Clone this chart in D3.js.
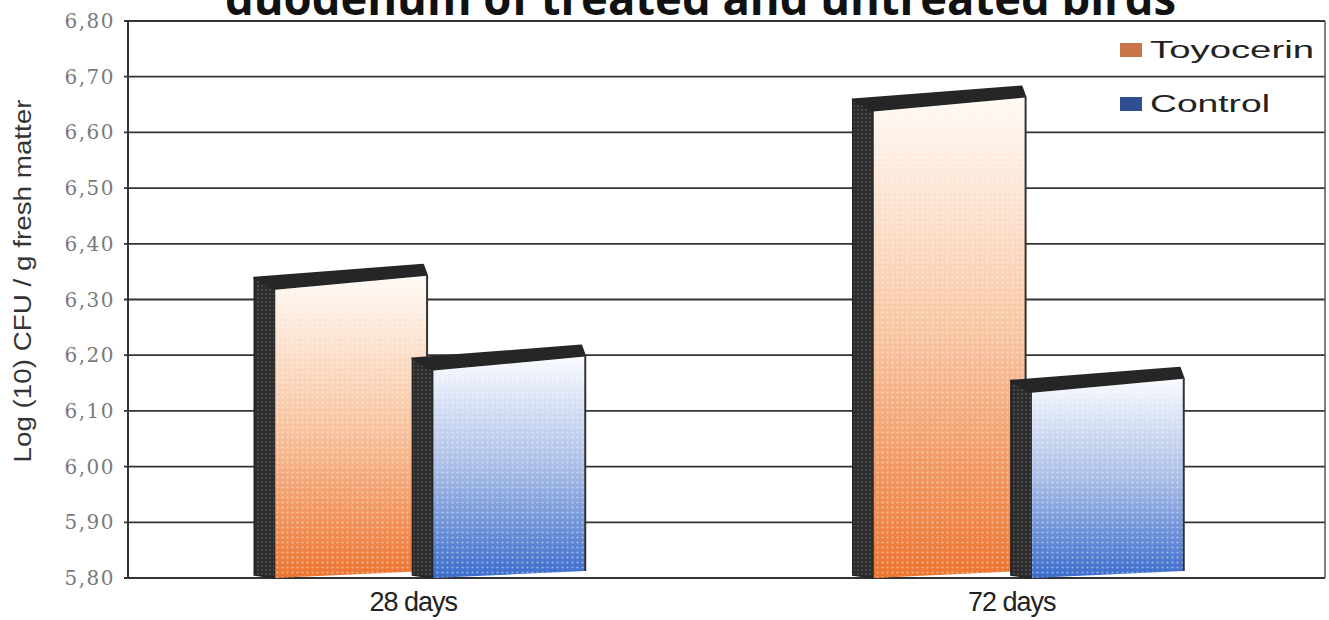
<!DOCTYPE html>
<html>
<head>
<meta charset="utf-8">
<script src="https://cdn.jsdelivr.net/npm/d3@7"></script>
<style>
  html, body { margin: 0; padding: 0; background: #fff; }
  svg { display: block; }
</style>
</head>
<body>
<div id="chart"></div>
<script>
// chart values
const categories = ["28 days", "72 days"];
const series = ["Toyocerin", "Control"];
const toyocerin = [6.33, 6.65];
const control = [6.185, 6.145];
const yTicks = [5.8, 5.9, 6.0, 6.1, 6.2, 6.3, 6.4, 6.5, 6.6, 6.7, 6.8];

const width = 1329,
  height = 620,
  margin = { top: 21, right: 4, bottom: 42, left: 128 };

const svg = d3
  .select("#chart")
  .append("svg")
  .attr("width", width)
  .attr("height", height)
  .attr("viewBox", [0, 0, width, height]);

const x0 = d3
  .scaleBand()
  .domain(categories)
  .range([margin.left, width - margin.right]);

const x1 = d3
  .scaleBand()
  .domain(series)
  .range([-152, 158])
  .paddingInner(0.04);

const y = d3
  .scaleLinear()
  .domain([5.8, 6.8])
  .range([height - margin.bottom, margin.top]);

const fmt = (d) => d3.format(".2f")(d).replace(".", ",");

// gradients and halftone pattern
const defs = svg.append("defs");
const grad = [
  { id: "g-Toyocerin", top: "#fffaf5", mid: "#f8c4a0", bot: "#ec7430" },
  { id: "g-Control", top: "#f9fbff", mid: "#a9bde6", bot: "#3a6ccc" },
];
for (let g of grad) {
  const lg = defs
    .append("linearGradient")
    .attr("id", g.id)
    .attr("x1", 0)
    .attr("y1", 0)
    .attr("x2", 0)
    .attr("y2", 1);
  lg.append("stop").attr("offset", "0%").attr("stop-color", g.top);
  lg.append("stop").attr("offset", "50%").attr("stop-color", g.mid);
  lg.append("stop").attr("offset", "100%").attr("stop-color", g.bot);
}
const dots = defs
  .append("pattern")
  .attr("id", "dots")
  .attr("width", 5)
  .attr("height", 5)
  .attr("patternUnits", "userSpaceOnUse");
dots
  .append("circle")
  .attr("cx", 2.5)
  .attr("cy", 2.5)
  .attr("r", 1.1)
  .attr("fill", "#fff")
  .attr("opacity", 0.45);
const darkDots = defs
  .append("pattern")
  .attr("id", "darkdots")
  .attr("width", 4)
  .attr("height", 4)
  .attr("patternUnits", "userSpaceOnUse");
darkDots.append("rect").attr("width", 4).attr("height", 4).attr("fill", "#2b2b2b");
darkDots
  .append("circle")
  .attr("cx", 2)
  .attr("cy", 2)
  .attr("r", 0.9)
  .attr("fill", "#595959");

// title, cut at the top of the picture as in the source
svg
  .append("text")
  .attr("x", 225)
  .attr("y", 15)
  .attr("textLength", 951)
  .attr("lengthAdjust", "spacingAndGlyphs")
  .style("font-family", "'Open Sans', 'DejaVu Sans', sans-serif")
  .style("font-weight", "bold")
  .style("font-size", "46px")
  .attr("fill", "#111")
  .text("duodenum of treated and untreated birds");

// grid
svg
  .append("g")
  .selectAll("line")
  .data(yTicks)
  .join("line")
  .attr("x1", margin.left - 4)
  .attr("x2", width - margin.right)
  .attr("y1", (d) => y(d))
  .attr("y2", (d) => y(d))
  .attr("stroke", "#333")
  .attr("stroke-width", 1.8);

// frame
svg
  .append("line")
  .attr("x1", margin.left)
  .attr("x2", margin.left)
  .attr("y1", y(6.8))
  .attr("y2", y(5.8))
  .attr("stroke", "#333")
  .attr("stroke-width", 2);
svg
  .append("line")
  .attr("x1", width - margin.right)
  .attr("x2", width - margin.right)
  .attr("y1", y(6.8))
  .attr("y2", y(5.8))
  .attr("stroke", "#555")
  .attr("stroke-width", 1.5);

// y tick labels
svg
  .append("g")
  .selectAll("text")
  .data(yTicks)
  .join("text")
  .attr("x", 115)
  .attr("y", (d) => y(d) + 7)
  .attr("text-anchor", "end")
  .style("font-family", "'DejaVu Serif', serif")
  .style("font-size", "20px")
  .style("letter-spacing", "1.5px")
  .attr("fill", "#7a7a7a")
  .text(fmt);

// y label
svg
  .append("text")
  .attr("transform", "translate(31,281) rotate(-90)")
  .attr("text-anchor", "middle")
  .attr("textLength", 363)
  .attr("lengthAdjust", "spacingAndGlyphs")
  .style("font-family", "'Liberation Sans', sans-serif")
  .style("font-size", "23px")
  .attr("fill", "#333")
  .text("Log (10) CFU / g fresh matter");

// 3D bars
const rows = [];
categories.forEach((c, i) => {
  rows.push({ cat: c, key: "Toyocerin", value: toyocerin[i] });
  rows.push({ cat: c, key: "Control", value: control[i] });
});

const depthX = 21,
  depthY = 12,
  topSlant = 7,
  baseSlant = 7;

svg
  .append("g")
  .selectAll("g")
  .data(rows)
  .join("g")
  .each(function (d) {
    const g = d3.select(this);
    const xl = x0(d.cat) + x0.bandwidth() / 2 + x1(d.key);
    const xr = xl + x1.bandwidth();
    const ytl = y(d.value) + topSlant;
    const ytr = y(d.value) - topSlant;
    const yb = y(5.8);
    const side = [
      [xl - depthX, ytl - depthY],
      [xl, ytl],
      [xl, yb],
      [xl - depthX, yb - 3],
    ];
    const top = [
      [xl - depthX, ytl - depthY],
      [xl, ytl],
      [xr, ytr],
      [xr - 4, ytr - depthY + 1],
    ];
    const front = [
      [xl, ytl],
      [xr, ytr],
      [xr, yb - baseSlant],
      [xl, yb],
    ];
    const line = d3.line();
    g.append("path")
      .attr("d", line(side) + "Z")
      .attr("fill", "url(#darkdots)")
      .attr("stroke", "#222")
      .attr("stroke-width", 1.5);
    g.append("path")
      .attr("d", line(top) + "Z")
      .attr("fill", "#262626")
      .attr("stroke", "#262626")
      .attr("stroke-width", 2)
      .attr("stroke-linejoin", "round");
    g.append("path")
      .attr("d", line(front) + "Z")
      .attr("fill", `url(#g-${d.key})`);
    g.append("path")
      .attr("d", line(front) + "Z")
      .attr("fill", "url(#dots)");
    g.append("line")
      .attr("x1", xr)
      .attr("x2", xr)
      .attr("y1", ytr)
      .attr("y2", yb - baseSlant)
      .attr("stroke", "#333")
      .attr("stroke-width", 2);
  });

// x labels
svg
  .append("g")
  .attr("transform", `translate(-14,${y(5.8)})`)
  .call(d3.axisBottom(x0).tickSize(0).tickPadding(14))
  .call((g) => g.select(".domain").remove())
  .selectAll("text")
  .style("font-family", "'Liberation Sans', sans-serif")
  .style("font-size", "27px")
  .style("letter-spacing", "-1px")
  .attr("fill", "#222");

// legend
const legendColors = { Toyocerin: "#c9744a", Control: "#2f4f91" };
const legend = svg
  .append("g")
  .selectAll("g")
  .data(series)
  .join("g")
  .attr("transform", (d, i) => `translate(1120,${43 + i * 54})`);
legend
  .append("rect")
  .attr("width", 22)
  .attr("height", 14)
  .attr("fill", (d) => legendColors[d]);
legend
  .append("text")
  .attr("x", 30)
  .attr("y", 15)
  .attr("textLength", (d) => (d === "Toyocerin" ? 164 : 120))
  .attr("lengthAdjust", "spacingAndGlyphs")
  .style("font-family", "'Liberation Sans', sans-serif")
  .style("font-size", "23px")
  .attr("fill", "#222")
  .text((d) => d);
</script>
</body>
</html>
